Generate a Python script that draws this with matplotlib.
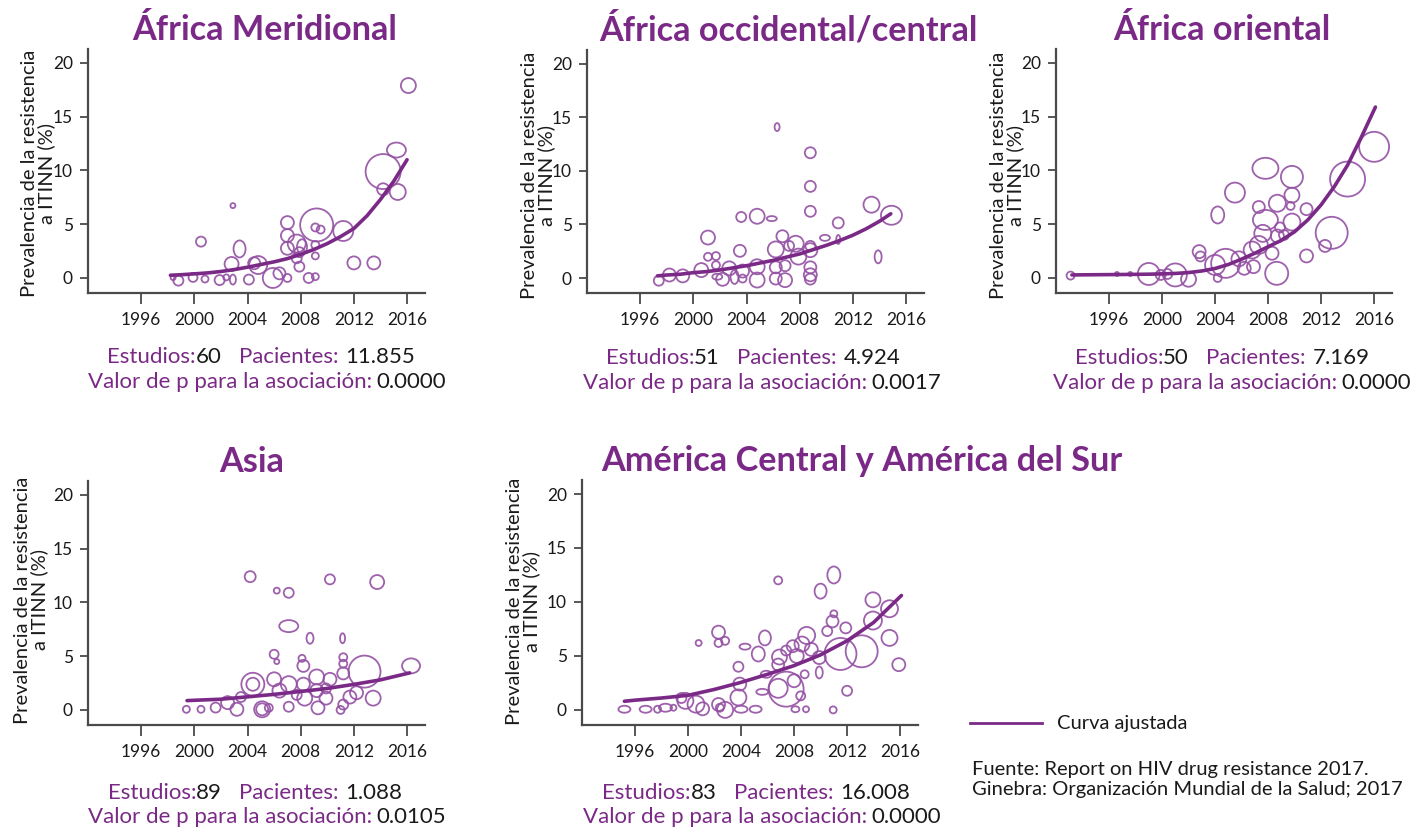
import matplotlib
matplotlib.use("Agg")
import matplotlib.pyplot as plt
from matplotlib.collections import EllipseCollection
from matplotlib.lines import Line2D

plt.rcParams['font.family'] = ['Lato', 'DejaVu Sans']

# ---------------- data ----------------
titles = ["África Meridional", "África occidental/central", "África oriental",
          "Asia", "América Central y América del Sur"]
studies = ["60", "51", "50", "89", "83"]
patients = ["11.855", "4.924", "7.169", "1.088", "16.008"]
pvalues = ["0.0000", "0.0017", "0.0000", "0.0105", "0.0000"]

x_ticks = [1996, 2000, 2004, 2008, 2012, 2016]
y_ticks = [0, 5, 10, 15, 20]
ylabel = "Prevalencia de la resistencia\na ITINN (%)"
legend_label = "Curva ajustada"
source_lines = ["Fuente: Report on HIV drug resistance 2017.",
                "Ginebra: Organización Mundial de la Salud; 2017"]

# fitted curves
curve1_x = [1998.2, 1999, 2000, 2001, 2002, 2003, 2004, 2005, 2006, 2007, 2008, 2009, 2010, 2011, 2012, 2013, 2014, 2015, 2016]
curve1_y = [0.25, 0.3, 0.38, 0.47, 0.6, 0.78, 1.0, 1.25, 1.5, 1.8, 2.2, 2.65, 3.2, 3.85, 4.6, 5.8, 7.3, 9.0, 11.0]
curve2_x = [1997.3, 1998, 1999, 2000, 2001, 2002, 2003, 2004, 2005, 2006, 2007, 2008, 2009, 2010, 2011, 2012, 2013, 2014, 2014.85]
curve2_y = [0.2, 0.28, 0.35, 0.5, 0.6, 0.75, 0.95, 1.15, 1.4, 1.65, 1.95, 2.25, 2.65, 3.05, 3.5, 4.0, 4.6, 5.3, 6.0]
curve3_x = [1993.2, 1995, 1997, 1999, 2000, 2001, 2002, 2003, 2004, 2005, 2006, 2007, 2008, 2009, 2010, 2011, 2012, 2013, 2014, 2015, 2016.1]
curve3_y = [0.28, 0.3, 0.32, 0.35, 0.38, 0.42, 0.5, 0.65, 0.88, 1.25, 1.75, 2.3, 2.9, 3.5, 4.3, 5.4, 6.8, 8.5, 10.5, 13.0, 15.9]
curve4_x = [1999.45, 2000, 2002, 2004, 2006, 2008, 2010, 2012, 2014, 2016.2]
curve4_y = [0.87, 0.9, 1.0, 1.22, 1.45, 1.72, 2.0, 2.38, 2.8, 3.45]
curve5_x = [1995.2, 1996, 1998, 2000, 2002, 2004, 2006, 2008, 2010, 2012, 2014, 2016.1]
curve5_y = [0.8, 0.9, 1.1, 1.35, 1.9, 2.55, 3.3, 4.1, 5.1, 6.4, 8.1, 10.6]

# studies (bubbles): year, prevalence, bubble width / height
b1_x = [2016.1, 2015.2, 2014.2, 2014.2, 2015.3, 2002.9, 2000.5, 2003.4, 2002.8, 2004.5, 2004.8, 2005.9, 2006.4, 2007.0,
        2007.0, 2007.0, 2007.0, 2007.7, 2008.1, 2007.7, 2007.9, 2009.2, 2009.1, 2009.5, 2009.1, 2009.1, 2008.6, 2009.1,
        2011.2, 2012.0, 2013.5, 1998.4, 1998.8, 1999.9, 2000.8, 2001.9, 2002.4, 2002.9, 2004.1, 2007.9]
b1_y = [17.9, 11.9, 9.9, 8.25, 8.0, 6.73, 3.38, 2.7, 1.3, 1.37, 1.2, 0.0, 0.43, 0.0,
        5.15, 3.94, 2.76, 3.2, 2.9, 1.83, 1.05, 4.93, 4.7, 4.5, 3.07, 2.05, 0.0, 0.12,
        4.37, 1.4, 1.4, 0.03, -0.25, 0.05, -0.1, -0.2, 0.05, -0.15, -0.15, 2.4]
b1_w = [15, 19, 35, 12, 16, 5, 10, 12, 14, 12, 18, 20, 12, 8,
        13, 13, 13, 18, 10, 10, 10, 33, 8, 8, 8, 7, 10, 7,
        20, 13, 13, 5, 10, 9, 7, 10, 6, 6, 10, 10]
b1_h = [15, 15, 35, 12, 16, 5, 10, 17, 14, 12, 18, 20, 12, 8,
        13, 13, 13, 18, 15, 10, 10, 33, 8, 8, 8, 7, 10, 7,
        20, 13, 13, 5, 10, 9, 7, 10, 6, 10, 10, 10]

b2_x = [2006.3, 2008.8, 2008.8, 2008.8, 2013.4, 2014.9, 2010.9, 2003.6, 2004.8, 2005.9, 2001.1, 2003.5, 2006.7, 2006.2,
        2007.7, 2007.2, 2007.9, 2008.8, 2008.8, 2009.9, 2010.9, 2013.9, 1997.4, 1998.2, 1999.2, 2000.6, 2001.1, 2001.7,
        2001.7, 2001.8, 2002.2, 2002.7, 2003.1, 2003.7, 2003.7, 2004.8, 2004.8, 2006.2, 2006.2, 2006.9, 2006.9, 2008.8,
        2008.8, 2008.8]
b2_y = [14.1, 11.7, 8.56, 6.23, 6.85, 5.86, 5.15, 5.7, 5.77, 5.55, 3.78, 2.54, 3.9, 2.67,
        3.2, 3.0, 2.0, 2.6, 3.0, 3.75, 3.6, 1.98, -0.25, 0.28, 0.2, 0.74, 1.98, 2.05,
        1.2, 0.12, -0.12, 0.9, 0.1, 0.65, -0.05, 1.05, -0.19, 1.0, -0.05, 1.15, -0.2, 1.0,
        0.3, -0.1]
b2_w = [5, 11, 11, 11, 16, 21, 11, 10, 15, 10, 14, 12, 12, 16,
        16, 10, 16, 14, 10, 10, 4, 7, 10, 13, 13, 14, 8, 8,
        8, 10, 13, 14, 8, 13, 8, 15, 15, 12, 12, 11, 14, 12,
        13, 11]
b2_h = [8, 11, 11, 11, 16, 19, 11, 10, 15, 5, 14, 12, 12, 16,
        16, 10, 16, 14, 10, 6, 9, 13, 10, 13, 13, 14, 8, 8,
        8, 6, 13, 14, 14, 13, 8, 15, 15, 12, 12, 11, 14, 12,
        13, 11]

b3_x = [1993.1, 1996.6, 1997.6, 1999.0, 1999.9, 2001.0, 2000.4, 2002.0, 2002.8, 2002.9, 2004.0, 2004.8, 2004.2, 2005.5,
        2005.8, 2006.2, 2006.8, 2007.3, 2007.8, 2007.3, 2007.8, 2007.6, 2008.7, 2009.8, 2009.8, 2009.7, 2009.8, 2010.9,
        2008.9, 2008.3, 2008.65, 2010.9, 2012.3, 2012.8, 2014.0, 2016.0, 2006.9, 2004.2, 2009.2, 2008.7]
b3_y = [0.22, 0.37, 0.37, 0.37, 0.28, 0.28, 0.37, -0.12, 2.45, 2.0, 1.21, 1.36, 5.86, 7.94,
        1.78, 0.9, 2.6, 3.07, 10.2, 6.6, 5.4, 4.15, 6.95, 9.4, 7.7, 6.7, 5.2, 6.4,
        4.7, 2.3, 0.43, 2.05, 2.98, 4.2, 9.2, 12.2, 1.05, 0.0, 4.0, 3.9]
b3_w = [8, 4, 4, 22, 10, 23, 10, 15, 13, 10, 20, 29, 13, 20,
        15, 13, 17, 18, 26, 12, 25, 17, 17, 22, 15, 8, 17, 12,
        10, 13, 23, 13, 12, 32, 35, 30, 13, 8, 10, 13]
b3_h = [8, 4, 4, 22, 10, 23, 10, 15, 13, 10, 20, 29, 17, 20,
        15, 13, 17, 18, 21, 12, 20, 17, 17, 22, 15, 8, 17, 12,
        10, 13, 23, 13, 12, 32, 35, 30, 13, 8, 10, 13]

b4_x = [2004.2, 2010.2, 2013.75, 2006.2, 2007.1, 2007.1, 2008.7, 2011.15, 2006.0, 2006.2, 2004.4, 2004.4, 2005.1, 2005.1,
        1999.4, 2000.5, 2001.6, 2002.5, 2003.2, 2003.5, 2006.0, 2006.4, 2007.1, 2008.2, 2008.1, 2009.2, 2008.2, 2008.3,
        2009.2, 2009.9, 2010.2, 2009.3, 2011.2, 2011.2, 2011.2, 2012.8, 2016.3, 2012.2, 2013.45, 2011.2, 2011.0, 2007.1,
        2007.7, 2011.7, 2005.6, 2009.9]
b4_y = [12.4, 12.15, 11.9, 11.1, 10.9, 7.8, 6.67, 6.67, 5.18, 4.5, 2.39, 2.39, 0.06, 0.06,
        0.06, 0.06, 0.22, 0.68, 0.06, 1.2, 2.85, 1.8, 2.4, 4.1, 4.8, 3.07, 2.4, 1.1,
        1.8, 1.1, 2.85, 0.2, 4.9, 4.3, 3.4, 3.57, 4.1, 1.6, 1.1, 0.5, 0.0, 0.3,
        1.4, 1.2, 0.2, 2.0]
b4_w = [11, 10, 14, 6, 10, 19, 7, 5, 9, 5, 23, 13, 16, 12,
        7, 7, 10, 13, 13, 10, 14, 14, 16, 12, 7, 15, 13, 15,
        13, 13, 13, 13, 8, 8, 12, 32, 18, 13, 15, 10, 8, 10,
        10, 13, 8, 10]
b4_h = [11, 10, 14, 6, 10, 12, 11, 10, 9, 5, 23, 13, 16, 12,
        7, 7, 10, 13, 13, 10, 14, 14, 16, 12, 7, 15, 13, 15,
        13, 13, 13, 13, 8, 8, 12, 32, 15, 13, 15, 10, 8, 10,
        10, 13, 8, 10]

b5_x = [2006.8, 2011.0, 2010.0, 2013.95, 2015.2, 2013.95, 2015.2, 2015.9, 2013.1, 2011.5, 2011.0, 2010.9, 2011.9, 2010.5,
        2008.95, 2008.6, 2008.2, 2007.9, 2006.9, 2006.8, 2006.8, 2007.4, 2008.0, 2009.9, 2008.8, 2008.5, 2009.9, 2002.3,
        2002.3, 2002.8, 2000.8, 2004.3, 2005.8, 2005.3, 2003.8, 2005.9, 2003.9, 2003.8, 2005.6, 2000.6, 1999.8, 2001.1,
        2002.3, 2002.4, 2002.8, 1995.2, 1996.8, 1997.7, 1998.3, 1998.9, 1999.5, 2004.0, 2005.1, 2008.1, 2008.9, 2010.95,
        2012.0, 2009.3, 2007.4]
b5_y = [12.0, 12.5, 11.0, 10.2, 9.37, 8.28, 6.67, 4.19, 5.43, 5.18, 8.9, 8.2, 7.6, 7.3,
        6.9, 6.1, 5.0, 5.9, 4.9, 4.2, 2.0, 1.92, 2.7, 3.47, 3.3, 1.3, 4.85, 7.2,
        6.2, 6.4, 6.2, 5.86, 6.67, 5.18, 4.0, 3.3, 2.39, 1.15, 1.67, 0.53, 0.84, 0.1,
        0.5, 0.2, 0.0, 0.06, 0.06, 0.06, 0.2, 0.2, 1.1, 0.06, 0.06, 0.06, 0.06, 0.0,
        1.77, 5.6, 5.5]
b5_w = [8, 13, 12, 15, 17, 18, 16, 13, 32, 32, 7, 12, 11, 10,
        17, 15, 14, 12, 15, 12, 19, 35, 13, 7, 8, 9, 13, 13,
        8, 8, 6, 11, 12, 13, 10, 11, 13, 16, 12, 17, 16, 13,
        13, 8, 16, 12, 12, 7, 13, 6, 10, 13, 12, 8, 6, 7,
        10, 13, 10]
b5_h = [8, 17, 15, 15, 17, 18, 16, 13, 32, 32, 7, 12, 11, 10,
        17, 15, 14, 12, 15, 12, 19, 35, 13, 12, 8, 9, 13, 13,
        8, 8, 6, 6, 15, 15, 10, 7, 13, 16, 6, 17, 16, 13,
        13, 8, 16, 7, 7, 7, 8, 6, 10, 7, 7, 6, 6, 7,
        10, 13, 10]

curves_x = [curve1_x, curve2_x, curve3_x, curve4_x, curve5_x]
curves_y = [curve1_y, curve2_y, curve3_y, curve4_y, curve5_y]
bubbles = [(b1_x, b1_y, b1_w, b1_h), (b2_x, b2_y, b2_w, b2_h), (b3_x, b3_y, b3_w, b3_h),
           (b4_x, b4_y, b4_w, b4_h), (b5_x, b5_y, b5_w, b5_h)]

# ---------------- layout / style ----------------
W, H = 1416, 831
DPI = 100
PURPLE = "#7A2A86"
BUBBLE = "#9450A3"
AXIS = "#4a4a4a"
TXT = "#1a1a1a"

fig = plt.figure(figsize=(W / DPI, H / DPI), dpi=DPI)
fig.patch.set_facecolor("white")

# axes rectangles in pixels: left, top, right, bottom
rects = [(88, 49, 425, 293), (587, 50, 924, 293), (1056, 49, 1392, 293),
         (88, 481, 425, 725), (582, 480, 918, 725)]
title_pos = [(265, 30), (788, 30), (1222, 30), (252, 462), (862, 461)]
ylab_pos = [(38, 173), (538, 175), (1007, 175), (31, 600), (523, 601)]
stat1_pos = [(261, 357), (753, 358), (1222, 358), (255, 793), (756, 793)]
stat2_pos = [(267, 382), (762, 383), (1232, 383), (267, 817), (762, 817)]


def fx(px):
    return px / W


def fy(py):
    return 1 - py / H


renderer = fig.canvas.get_renderer()


def colored_line(cx, cy, pieces, size):
    """pieces: list of (text, color, gap_before_px)"""
    objs = []
    total = 0
    widths = []
    for s, c, gap in pieces:
        t = fig.text(0, fy(cy), s, color=c, fontsize=size, ha="left", va="center")
        w = t.get_window_extent(renderer).width
        widths.append(w)
        total += gap + w
        objs.append((t, gap))
    x = cx - total / 2
    for (t, gap), w in zip(objs, widths):
        x += gap
        t.set_x(fx(x))
        x += w


for i in range(5):
    l, t, r, b = rects[i]
    ax = fig.add_axes([fx(l), fy(b), (r - l) / W, (b - t) / H])
    ax.set_xlim(1992, 2017.35)
    ax.set_ylim(-1.4, 21.3)
    for s in ["top", "right"]:
        ax.spines[s].set_visible(False)
    for s in ["left", "bottom"]:
        ax.spines[s].set_color(AXIS)
        ax.spines[s].set_linewidth(1.6)
    ax.set_xticks(x_ticks)
    ax.set_yticks(y_ticks)
    ax.tick_params(axis="x", direction="out", length=8, width=1.3, color=AXIS,
                   labelsize=12.5, labelcolor=TXT, pad=6)
    ax.tick_params(axis="y", direction="out", length=6, width=1.3, color=AXIS,
                   labelsize=12.5, labelcolor=TXT, pad=5)
    ax.patch.set_alpha(0)

    bx, by, bw, bh = bubbles[i]
    ec = EllipseCollection(bw, bh, [0] * len(bw), units="dots",
                           offsets=list(zip(bx, by)), offset_transform=ax.transData,
                           facecolors="none", edgecolors=BUBBLE, linewidths=1.3, alpha=0.9)
    ax.add_collection(ec)
    ax.plot(curves_x[i], curves_y[i], color=PURPLE, lw=2.6, solid_capstyle="round", zorder=3)

    tx, ty = title_pos[i]
    fig.text(fx(tx), fy(ty), titles[i], color=PURPLE, fontsize=24.7, fontweight="bold",
             ha="center", va="center")
    lx, ly = ylab_pos[i]
    fig.text(fx(lx), fy(ly), ylabel, rotation=90, ha="center", va="center",
             multialignment="center", fontsize=14.5, color=TXT, linespacing=1.0)

    colored_line(stat1_pos[i][0], stat1_pos[i][1],
                 [("Estudios:", PURPLE, 0), (studies[i], TXT, 0),
                  ("Pacientes:", PURPLE, 17), (patients[i], TXT, 7)], 16)
    colored_line(stat2_pos[i][0], stat2_pos[i][1],
                 [("Valor de p para la asociación:", PURPLE, 0), (pvalues[i], TXT, 5)], 16)

# legend
fig.add_artist(Line2D([fx(970), fx(1042)], [fy(723), fy(723)], color=PURPLE, lw=2))
fig.text(fx(1057), fy(723), legend_label, fontsize=14.5, color=TXT, ha="left", va="center")
fig.text(fx(972), fy(770), source_lines[0], fontsize=14.5, color=TXT, ha="left", va="center")
fig.text(fx(972), fy(790), source_lines[1], fontsize=14.5, color=TXT, ha="left", va="center")

fig.savefig("out.png", dpi=DPI)
